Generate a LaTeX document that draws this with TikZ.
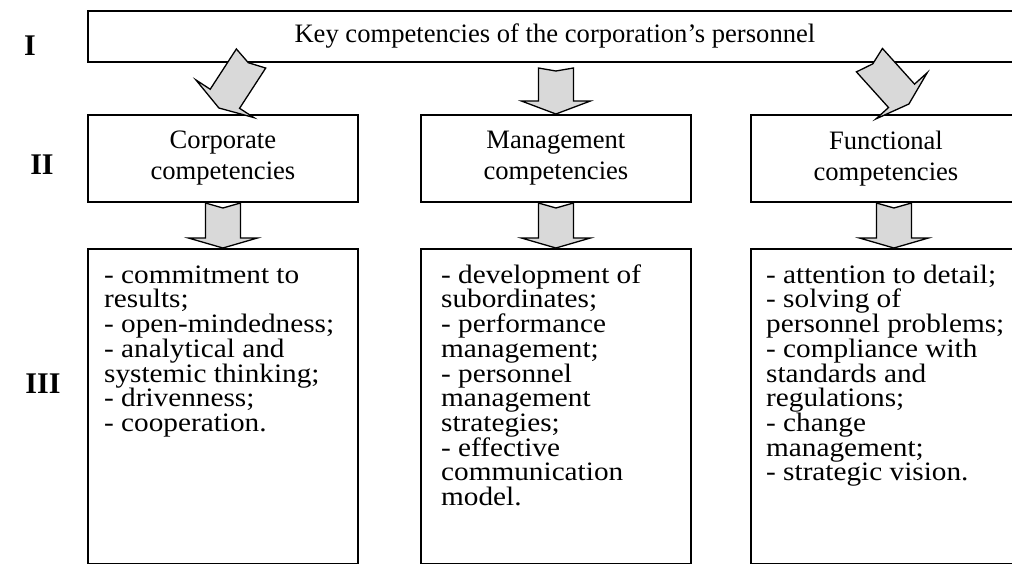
\documentclass[tikz,border=0pt]{standalone}
\usepackage{fontspec}
\setmainfont{Liberation Serif}
\newfontfamily\listfont{Liberation Serif}[FakeStretch=1.1]
\usetikzlibrary{calc}
\definecolor{arrowgray}{RGB}{217,217,217}
% list lines keep a fixed pitch even when ascenders and descenders come close
\newcommand{\tightlines}{\lineskiplimit=-\maxdimen\lineskip=0pt}
\begin{document}
\begin{tikzpicture}[x=1pt,y=-1pt,
  box/.style={draw, line width=1.8pt, inner sep=0pt, anchor=north west},
  headtext/.style={font=\fontsize{26.6}{31}\selectfont, align=center},
  listtext/.style={font=\listfont\fontsize{26.6}{24.7}\selectfont\tightlines, align=left, anchor=north west, inner sep=0pt},
  level/.style={font=\fontsize{30}{34}\selectfont\bfseries, inner sep=0pt},
  pics/blockarrow/.style n args={3}{code={
    % tip at the origin, shaft length #1, head length #2, notch depth #3
    \draw[line width=1.3pt, fill=arrowgray, line join=miter]
      (0,0) -- (34.5,-#2) -- (17.5,-#2) -- (17.5,-#2-#1) -- (0,-#2-#1+#3)
      -- (-17.5,-#2-#1) -- (-17.5,-#2) -- (-34.5,-#2) -- cycle;
  }}]
\useasboundingbox (0,0) rectangle (1012,563);

% level markers
\node[level] (lvI) at (30,46) {I};
\node[level] (lvII) at (42,165) {II};
\node[level] (lvIII) at (43,384) {III};

% level I
\node[box, minimum width=934, minimum height=51, headtext] (key) at (87,10)
  {Key competencies of the corporation’s personnel};

% level II
\node[box, minimum width=270, minimum height=87, headtext] (corp) at (87,114)
  {Corporate\\competencies};
\node[box, minimum width=270, minimum height=87, headtext] (mgmt) at (420,114)
  {Management\\competencies};
\node[box, minimum width=270, minimum height=87, headtext] (func) at (750,114)
  {Functional\\competencies};

% level III
\node[box, minimum width=270, minimum height=314.5] (corpl) at (87,248) {};
\node[box, minimum width=270, minimum height=314.5] (mgmtl) at (420,248) {};
\node[box, minimum width=270, minimum height=314.5] (funcl) at (750,248) {};

\node[listtext] (corpitems) at ($(corpl.north west)+(17,15)$)
  {\rule{0pt}{20pt}- commitment to\\results;\\- open-mindedness;\\- analytical and\\systemic thinking;\\- drivenness;\\- cooperation.};
\node[listtext] (mgmtitems) at ($(mgmtl.north west)+(21,15)$)
  {\rule{0pt}{20pt}- development of\\subordinates;\\- performance\\management;\\- personnel\\management\\strategies;\\- effective\\communication\\model.};
\node[listtext] (funcitems) at ($(funcl.north west)+(16,15)$)
  {\rule{0pt}{20pt}- attention to detail;\\- solving of\\personnel problems;\\- compliance with\\standards and\\regulations;\\- change\\management;\\- strategic vision.};

% connectors
\pic[rotate=-33] at ($(corp.north)+(-4,-6)$) {blockarrow={48}{11}{5}};
\pic at (mgmt.north) {blockarrow={33}{13}{3}};
\pic[rotate=42] at ($(func.north)+(23,-10)$) {blockarrow={48}{11}{5}};
\pic at (corpl.north) {blockarrow={35}{10}{5}};
\pic at (mgmtl.north) {blockarrow={35}{10}{5}};
\pic at ($(funcl.north)+(8,0)$) {blockarrow={35}{10}{5}};
\end{tikzpicture}
\end{document}
